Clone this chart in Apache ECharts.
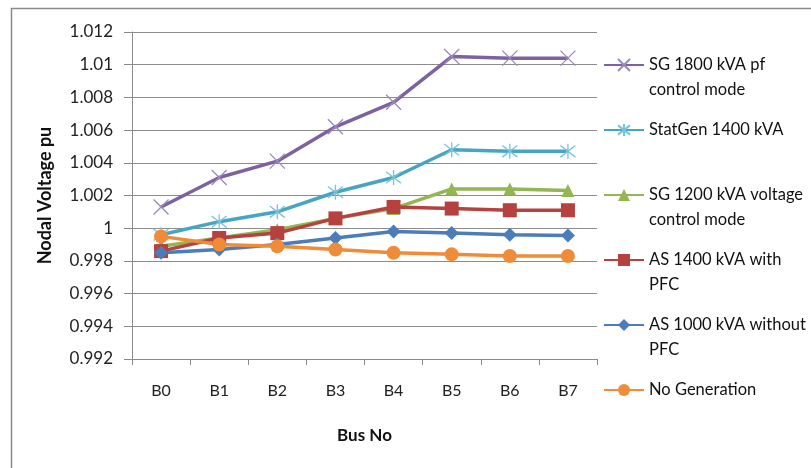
<!DOCTYPE html>
<html>
<head>
<meta charset="utf-8">
<script src="https://cdn.jsdelivr.net/npm/echarts@6/dist/echarts.min.js"></script>
<style>
html,body{margin:0;padding:0;background:#fff;}
#c{width:811px;height:468px;}
</style>
</head>
<body>
<div id="c"></div>
<script>
// ---- data ----
var categories = ['B0','B1','B2','B3','B4','B5','B6','B7'];
var sg1800 = [1.0013, 1.0031, 1.0041, 1.0062, 1.0077, 1.0105, 1.0104, 1.0104];
var statGen1400 = [0.9996, 1.0004, 1.0010, 1.0022, 1.0031, 1.0048, 1.0047, 1.0047];
var sg1200 = [0.9989, 0.9994, 0.9999, 1.0006, 1.0012, 1.0024, 1.0024, 1.0023];
var as1400 = [0.9986, 0.9994, 0.9997, 1.0006, 1.0013, 1.0012, 1.0011, 1.0011];
var as1000 = [0.9985, 0.9987, 0.9990, 0.9994, 0.9998, 0.9997, 0.9996, 0.99955];
var noGen = [0.9995, 0.9990, 0.9989, 0.9987, 0.9985, 0.9984, 0.9983, 0.9983];
var seriesNames = ['SG 1800 kVA pf control mode','StatGen 1400 kVA','SG 1200 kVA voltage control mode','AS 1400 kVA with PFC','AS 1000 kVA without PFC','No Generation'];
var legendLabels = ['SG 1800 kVA pf\ncontrol mode','StatGen 1400 kVA','SG 1200 kVA voltage\ncontrol mode','AS 1400 kVA with\nPFC','AS 1000 kVA without\nPFC','No Generation'];
var yTicks = {min: 0.992, max: 1.012, interval: 0.002};
var yTitle = 'Nodal Voltage pu';
var xTitle = 'Bus No';

// ---- styles ----
var FONT = 'Lato';
var colors = ['#7E62A0','#45A5C2','#93B552','#B5423F','#4A7DB9','#EE8C3A'];
var markColors = ['#9C88BE','#78C3DA','#93B552','#B5423F','#4A7DB9','#EE8C3A'];
var symbols = [
  'path://M0,0L10,10M10,0L0,10',
  'path://M0,0L10,10M10,0L0,10M5,-1.5L5,11.5',
  'triangle','rect','diamond','circle'
];
var symbolSizes = [15, 15, 13, 14, 14, 14];
var dataArr = [sg1800, statGen1400, sg1200, as1400, as1000, noGen];

var series = seriesNames.map(function(n, i){
  var isPath = i < 2;
  return {
    name: n,
    type: 'line',
    data: dataArr[i],
    symbol: symbols[i],
    symbolSize: symbolSizes[i],
    showAllSymbol: true,
    lineStyle: {color: colors[i], width: 3.5},
    itemStyle: isPath ? {color: markColors[i], borderColor: markColors[i], borderWidth: 1.3}
                      : {color: markColors[i], borderWidth: 0},
    emphasis: {disabled: true},
    animation: false
  };
});

var legendCenters = [65, 130, 195, 260, 325, 390];
var legends = seriesNames.map(function(n, i){
  var two = legendLabels[i].indexOf('\n') >= 0;
  return {
    data: [n],
    orient: 'vertical',
    left: 603,
    top: legendCenters[i] - (two ? 37.5 : 12.5),
    padding: 0,
    itemWidth: 40,
    itemHeight: 15,
    selectedMode: false,
    formatter: function(){ return two ? (' \n' + legendLabels[i]) : legendLabels[i]; },
    textStyle: {fontFamily: FONT, fontSize: 16.5, color: '#111', lineHeight: 25}
  };
});

var chart = echarts.init(document.getElementById('c'), null, {renderer: 'canvas'});
chart.setOption({
  backgroundColor: '#fff',
  animation: false,
  graphic: [{
    type: 'rect', silent: true,
    shape: {x: 11.5, y: 8.5, width: 900, height: 600},
    style: {fill: 'none', stroke: '#8a8a8a', lineWidth: 1.5}
  }],
  legend: legends,
  grid: {left: 132, top: 32, width: 465, height: 327, containLabel: false},
  xAxis: {
    type: 'category',
    data: categories,
    boundaryGap: true,
    name: xTitle,
    nameLocation: 'middle',
    nameGap: 68,
    nameTextStyle: {fontFamily: FONT, fontSize: 17, fontWeight: 'bold', color: '#111'},
    axisLine: {lineStyle: {color: '#8a8a8a', width: 1}},
    axisTick: {show: true, length: 6, lineStyle: {color: '#8a8a8a'}},
    axisLabel: {fontFamily: FONT, fontSize: 16, color: '#222', margin: 24},
    splitLine: {show: false}
  },
  yAxis: {
    type: 'value',
    min: yTicks.min, max: yTicks.max, interval: yTicks.interval,
    name: yTitle,
    nameLocation: 'middle',
    nameGap: 78,
    nameTextStyle: {fontFamily: FONT, fontSize: 18, fontWeight: 'bold', color: '#111'},
    axisLine: {show: true, lineStyle: {color: '#8a8a8a', width: 1}},
    axisTick: {show: true, length: 8, lineStyle: {color: '#8a8a8a'}},
    axisLabel: {fontFamily: FONT, fontSize: 17, color: '#222', margin: 19,
      formatter: function(v){ return String(+v.toFixed(3)); }},
    splitLine: {show: true, lineStyle: {color: '#8c8c8c', width: 1}}
  },
  series: series
});
</script>
</body>
</html>
